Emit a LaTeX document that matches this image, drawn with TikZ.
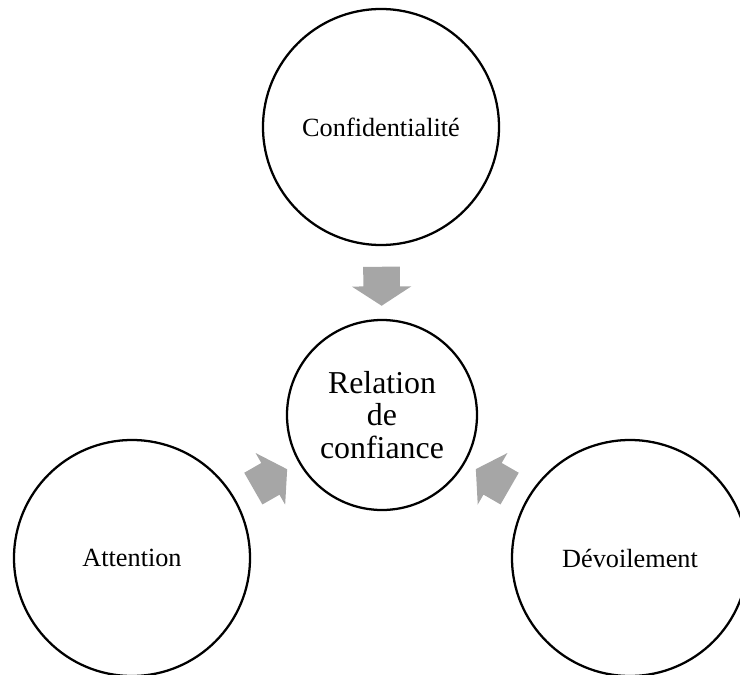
\documentclass[tikz,border=0pt]{standalone}
\usepackage{fontspec}
\setmainfont{Liberation Serif}
\usetikzlibrary{shapes.arrows}
\definecolor{arrowgray}{HTML}{A6A6A6}
\tikzset{
  ring/.style={circle, draw=black, line width=1.7pt, inner sep=0pt, align=center},
  outer/.style={ring, minimum size=177pt, font=\fontsize{19.7pt}{23pt}\selectfont},
  inner/.style={ring, minimum size=142.5pt, font=\fontsize{23.9pt}{24.5pt}\selectfont},
  blockarrow/.style={single arrow, fill=arrowgray, draw=none, sloped, allow upside down,
    single arrow head extend=8.625pt, single arrow tip angle=114,
    minimum height=29.25pt, inner xsep=0pt, inner ysep=13.5pt, anchor=center}
}
\begin{document}
\begin{tikzpicture}[x=0.75pt, y=-0.75pt]
  \clip (0,0) rectangle (740,675);
  \useasboundingbox (0,0) rectangle (740,675);
  \node[outer] (T) at (381,127) {Confidentialité};
  \node[outer] (L) at (132,558) {Attention};
  \node[outer] (R) at (630,558) {Dévoilement};
  \node[inner] (C) at (382,415) {Relation\\de\\confiance};
  \path (T) -- node[blockarrow, pos=0.47] {} (C);
  \path (L) -- node[blockarrow, pos=0.47] {} (C);
  \path (R) -- node[blockarrow, pos=0.47] {} (C);
\end{tikzpicture}
\end{document}
